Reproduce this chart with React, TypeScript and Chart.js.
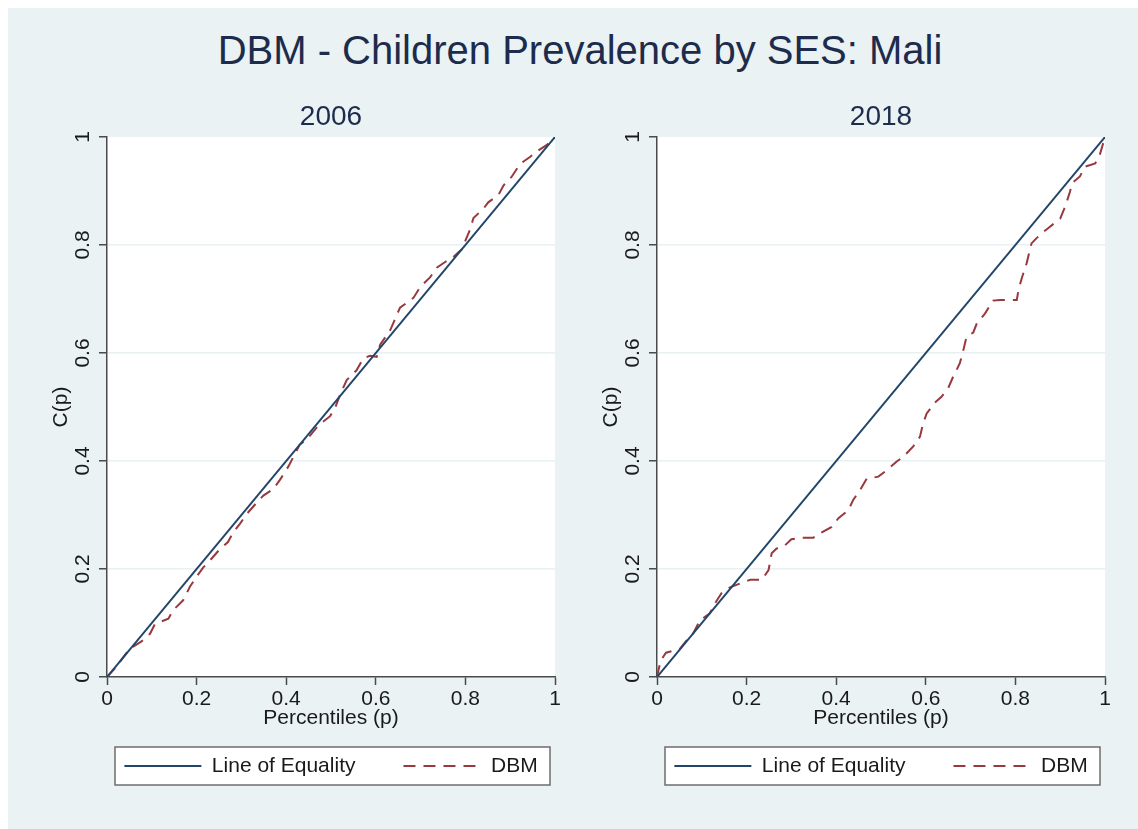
import React, { useEffect, useRef } from "react";
import { Chart, registerables } from "chart.js";

Chart.register(...registerables);

const MAIN_TITLE = "DBM - Children Prevalence by SES: Mali";
const PANEL_TITLES = ["2006", "2018"];
const SERIES_NAMES = ["Line of Equality", "DBM"];
const X_TITLE = "Percentiles (p)";
const Y_TITLE = "C(p)";
const TICK_VALUES = [0, 0.2, 0.4, 0.6, 0.8, 1];
const TICK_LABELS = ["0", "0.2", "0.4", "0.6", "0.8", "1"];

const EQ_P = [0, 1];
const EQ_C = [0, 1];

const P_2006 = [0, 0.02, 0.05, 0.077, 0.096, 0.107, 0.137, 0.148, 0.17, 0.185, 0.2, 0.215, 0.23, 0.249, 0.27, 0.282, 0.297, 0.312, 0.33, 0.349, 0.371, 0.386, 0.405, 0.43, 0.446, 0.472, 0.498, 0.51, 0.52, 0.535, 0.557, 0.572, 0.587, 0.602, 0.61, 0.632, 0.654, 0.684, 0.699, 0.721, 0.736, 0.754, 0.773, 0.792, 0.8, 0.81, 0.818, 0.84, 0.851, 0.874, 0.885, 0.892, 0.903, 0.922, 0.944, 0.959, 0.981, 1];
const C_2006 = [0, 0.018, 0.052, 0.066, 0.08, 0.098, 0.108, 0.124, 0.142, 0.167, 0.186, 0.203, 0.216, 0.234, 0.25, 0.268, 0.284, 0.302, 0.319, 0.336, 0.348, 0.365, 0.39, 0.43, 0.44, 0.466, 0.483, 0.5, 0.522, 0.55, 0.568, 0.59, 0.595, 0.593, 0.616, 0.642, 0.684, 0.702, 0.722, 0.74, 0.758, 0.768, 0.778, 0.792, 0.808, 0.828, 0.85, 0.867, 0.879, 0.893, 0.91, 0.918, 0.926, 0.95, 0.963, 0.973, 0.985, 1];

const P_2018 = [0, 0.008, 0.02, 0.051, 0.066, 0.081, 0.096, 0.118, 0.129, 0.144, 0.163, 0.185, 0.208, 0.234, 0.249, 0.256, 0.267, 0.282, 0.3, 0.323, 0.349, 0.364, 0.39, 0.405, 0.427, 0.438, 0.453, 0.468, 0.494, 0.513, 0.535, 0.55, 0.572, 0.587, 0.594, 0.602, 0.62, 0.635, 0.65, 0.661, 0.676, 0.684, 0.691, 0.706, 0.714, 0.732, 0.75, 0.766, 0.803, 0.807, 0.814, 0.825, 0.836, 0.844, 0.859, 0.873, 0.9, 0.911, 0.922, 0.926, 0.944, 0.955, 0.978, 0.988, 1];
const C_2018 = [0, 0.03, 0.045, 0.052, 0.068, 0.081, 0.105, 0.118, 0.136, 0.155, 0.166, 0.173, 0.18, 0.18, 0.198, 0.229, 0.238, 0.241, 0.255, 0.258, 0.258, 0.266, 0.278, 0.294, 0.309, 0.328, 0.346, 0.367, 0.371, 0.383, 0.399, 0.408, 0.427, 0.445, 0.47, 0.488, 0.508, 0.519, 0.535, 0.556, 0.581, 0.606, 0.63, 0.638, 0.655, 0.673, 0.697, 0.698, 0.698, 0.717, 0.738, 0.766, 0.803, 0.81, 0.822, 0.831, 0.849, 0.871, 0.899, 0.914, 0.927, 0.945, 0.951, 0.966, 1];

const FONT = "'Liberation Sans', Arial, Helvetica, sans-serif";
const NAVY = "#22466a";
const MAROON = "#98393f";
const AXIS = "#4a4a4a";
const GRID = "#e9f0f2";
const TXT = "#1a1a1a";
const TITLE_COLOR = "#1d2b4d";
const BG = "#eaf2f3";

const CANVAS_W = 565;
const CANVAS_H = 741;
const LEGEND_PAD = 48;
const LEGEND_CENTER = 678;

const decorPlugin = {
  id: "panelDecor",
  afterLayout(chart: any) {
    const lg = chart.legend;
    const ca = chart.chartArea;
    if (!lg || !ca) return;
    const h = lg.height;
    const top = LEGEND_CENTER - LEGEND_PAD - 10.5;
    lg.top = top;
    lg.bottom = top + h;
    const dx = (ca.left + ca.right) / 2 - (lg.left + lg.right) / 2;
    lg.left += dx;
    lg.right += dx;
  },
  beforeDraw(chart: any) {
    const { ctx, chartArea: ca } = chart;
    ctx.save();
    ctx.fillStyle = "#ffffff";
    ctx.fillRect(ca.left, ca.top, ca.right - ca.left, ca.bottom - ca.top);
    const x0 = ca.left + 8;
    const x1 = ca.right - 5;
    const y0 = LEGEND_CENTER - 19;
    ctx.fillRect(x0, y0, x1 - x0, 38);
    ctx.strokeStyle = "#6e6e6e";
    ctx.lineWidth = 1.5;
    ctx.strokeRect(x0, y0, x1 - x0, 38);
    ctx.restore();
  },
};

function Panel(props: { title: string; p: number[]; c: number[]; padLeft: number; padRight: number; left: number }) {
  const ref = useRef<HTMLCanvasElement | null>(null);
  useEffect(() => {
    if (!ref.current) return;
    const tickFont = { family: FONT, size: 21 };
    const chart = new Chart(ref.current, {
      type: "line",
      data: {
        datasets: [
          {
            label: SERIES_NAMES[0],
            data: EQ_P.map((x, i) => ({ x, y: EQ_C[i] })),
            borderColor: NAVY,
            backgroundColor: NAVY,
            borderWidth: 2,
            pointRadius: 0,
            tension: 0,
            fill: false,
          },
          {
            label: SERIES_NAMES[1],
            data: props.p.map((x, i) => ({ x, y: props.c[i] })),
            borderColor: MAROON,
            backgroundColor: MAROON,
            borderWidth: 2,
            borderDash: [12, 8],
            pointRadius: 0,
            tension: 0,
            fill: false,
          },
        ],
      },
      options: {
        animation: false,
        responsive: false,
        maintainAspectRatio: false,
        devicePixelRatio: 1,
        layout: { padding: { left: props.padLeft, right: props.padRight, top: 0, bottom: 19 } },
        plugins: {
          tooltip: { enabled: false },
          title: {
            display: true,
            text: props.title,
            fullSize: false,
            color: TITLE_COLOR,
            font: { family: FONT, size: 28, weight: "normal" },
            padding: { top: 12.2, bottom: 3.2 },
          },
          legend: {
            display: true,
            position: "bottom",
            align: "center",
            fullSize: true,
            labels: {
              usePointStyle: true,
              pointStyle: "line",
              pointStyleWidth: 77,
              boxHeight: 21,
              padding: LEGEND_PAD,
              color: TXT,
              font: { family: FONT, size: 21 },
              generateLabels: (ch: any) => {
                const items = Chart.defaults.plugins.legend.labels.generateLabels(ch);
                return items.map((it: any) => {
                  const ds: any = ch.data.datasets[it.datasetIndex];
                  return { ...it, lineDash: ds.borderDash || [], lineWidth: ds.borderWidth, strokeStyle: ds.borderColor, pointStyle: "line" };
                });
              },
            },
          },
        },
        scales: {
          x: {
            type: "linear",
            min: 0,
            max: 1,
            afterBuildTicks: (s: any) => {
              s.ticks = TICK_VALUES.map((v) => ({ value: v }));
            },
            afterFit: (s: any) => {
              s.height = 54;
            },
            grid: { drawOnChartArea: false, tickLength: 8, tickColor: AXIS, tickWidth: 1.5 },
            border: { color: AXIS, width: 1.5 },
            ticks: {
              padding: 2,
              minRotation: 0,
              maxRotation: 0,
              autoSkip: false,
              color: TXT,
              font: tickFont,
              callback: (_v: any, i: number) => TICK_LABELS[i],
            },
            title: { display: true, text: X_TITLE, color: TXT, font: tickFont, padding: { top: 0, bottom: 0 } },
          },
          y: {
            type: "linear",
            min: 0,
            max: 1,
            afterBuildTicks: (s: any) => {
              s.ticks = TICK_VALUES.map((v) => ({ value: v }));
            },
            afterFit: (s: any) => {
              s.width = 84;
            },
            grid: {
              color: (c: any) => (c.tick && (c.tick.value === 0 || c.tick.value === 1) ? "rgba(0,0,0,0)" : GRID),
              lineWidth: 1.5,
              tickLength: 8,
              tickColor: AXIS,
              tickWidth: 1.5,
            },
            border: { color: AXIS, width: 1.5 },
            ticks: {
              padding: 1.5,
              minRotation: 90,
              maxRotation: 90,
              crossAlign: "center",
              autoSkip: false,
              color: TXT,
              font: tickFont,
              callback: (_v: any, i: number) => TICK_LABELS[i],
            },
            title: { display: true, text: Y_TITLE, color: TXT, font: tickFont, padding: { top: 26, bottom: 0 } },
          },
        },
      },
      plugins: [decorPlugin],
    } as any);
    return () => chart.destroy();
  }, []);
  return (
    <canvas
      ref={ref}
      width={CANVAS_W}
      height={CANVAS_H}
      style={{ position: "absolute", left: props.left, top: 80, width: CANVAS_W, height: CANVAS_H }}
    />
  );
}

export default function App() {
  return (
    <div
      style={{
        position: "absolute",
        left: 8,
        top: 8,
        width: 1130,
        height: 821,
        background: BG,
        overflow: "hidden",
      }}
    >
      <div
        style={{
          position: "absolute",
          left: 7,
          top: 22,
          width: 1130,
          height: 40,
          lineHeight: "40px",
          fontFamily: FONT,
          fontSize: 40,
          color: TITLE_COLOR,
          textAlign: "center",
          whiteSpace: "nowrap",
        }}
      >
        {MAIN_TITLE}
      </div>
      <Panel title={PANEL_TITLES[0]} p={P_2006} c={C_2006} padLeft={15} padRight={18} left={0} />
      <Panel title={PANEL_TITLES[1]} p={P_2018} c={C_2018} padLeft={0} padRight={33} left={565} />
    </div>
  );
}
